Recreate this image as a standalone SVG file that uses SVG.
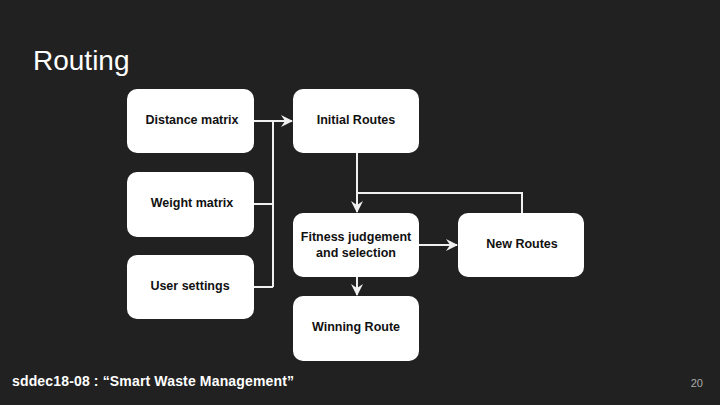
<svg xmlns="http://www.w3.org/2000/svg" width="720" height="405" viewBox="0 0 720 405">
<defs>
<style>
.box{fill:#ffffff;}
.lbl{font-family:"Liberation Sans",Arial,sans-serif;font-weight:bold;font-size:12.5px;fill:#111;text-anchor:middle;}
.ln{stroke:#f0f0f0;stroke-width:2;fill:none;}
</style>
<marker id="ah" markerWidth="14" markerHeight="14" refX="11" refY="6" orient="auto" markerUnits="userSpaceOnUse">
<path d="M0,0 L12,6 L0,12 L4,6 Z" fill="#f0f0f0"/>
</marker>
</defs>
<rect width="720" height="405" fill="#212121"/>
<text x="33" y="70" font-family="'Liberation Sans',Arial,sans-serif" font-size="28" fill="#ffffff">Routing</text>
<g id="connectors">
<path class="ln" d="M254,121 H273"/>
<path class="ln" d="M254,204 H273"/>
<path class="ln" d="M254,287 H273"/>
<path class="ln" d="M273,121 V287"/>
<path class="ln" d="M273,121 H292" marker-end="url(#ah)"/>
<path class="ln" d="M357,153 V212" marker-end="url(#ah)"/>
<path class="ln" d="M522,213 V193 H357"/>
<path class="ln" d="M419,245 H457" marker-end="url(#ah)"/>
<path class="ln" d="M357,277 V295" marker-end="url(#ah)"/>
</g>
<g id="distance-matrix"><rect class="box" x="127" y="89" width="127" height="64" rx="10"/><text class="lbl" x="192" y="124">Distance matrix</text></g>
<g id="weight-matrix"><rect class="box" x="127" y="172" width="127" height="65" rx="10"/><text class="lbl" x="192" y="207">Weight matrix</text></g>
<g id="user-settings"><rect class="box" x="127" y="255" width="127" height="64" rx="10"/><text class="lbl" x="190" y="290">User settings</text></g>
<g id="initial-routes"><rect class="box" x="293" y="89" width="126" height="64" rx="10"/><text class="lbl" x="356" y="124">Initial Routes</text></g>
<g id="fitness"><rect class="box" x="293" y="213" width="126" height="64" rx="10"/><text class="lbl" x="356" y="241">Fitness judgement</text><text class="lbl" x="356" y="257">and selection</text></g>
<g id="new-routes"><rect class="box" x="458" y="213" width="126" height="64" rx="10"/><text class="lbl" x="522" y="248">New Routes</text></g>
<g id="winning-route"><rect class="box" x="293" y="296" width="126" height="65" rx="10"/><text class="lbl" x="356" y="331">Winning Route</text></g>
<text x="12" y="386" font-family="'Liberation Sans',Arial,sans-serif" font-weight="bold" font-size="14" fill="#ffffff" textLength="282" lengthAdjust="spacing">sddec18-08 :  “Smart Waste Management”</text>
<text x="703" y="387" font-family="'Liberation Sans',Arial,sans-serif" font-size="11" fill="#aaaaaa" text-anchor="end">20</text>
</svg>
